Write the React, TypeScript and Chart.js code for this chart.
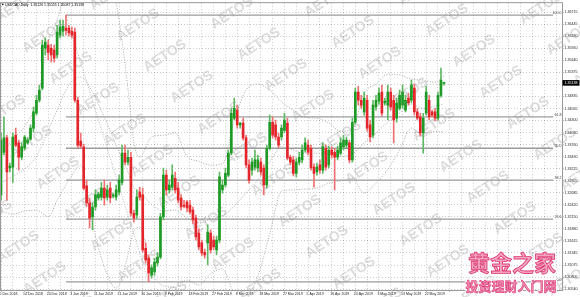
import React, { useEffect, useRef } from 'react';
import { Chart, registerables } from 'chart.js';

Chart.register(...registerables);

const chartTitle = 'USDCAD,Daily  1.35126 1.35155 1.35087 1.35138';
const dateLabels = ['5 Dec 2018', '14 Dec 2018', '24 Dec 2018', '3 Jan 2019', '11 Jan 2019', '21 Jan 2019', '30 Jan 2019', '8 Feb 2019', '18 Feb 2019', '27 Feb 2019', '8 Mar 2019', '18 Mar 2019', '27 Mar 2019', '5 Apr 2019', '16 Apr 2019', '24 Apr 2019', '3 May 2019', '13 May 2019', '22 May 2019'];
const barsPerDateLabel = 8;
const slotCount = 191;

const opens = [1.3264, 1.3359, 1.3391, 1.3324, 1.3326, 1.3397, 1.3380, 1.3348, 1.3368, 1.3380, 1.3388, 1.3413, 1.3446, 1.3475, 1.3502, 1.3591, 1.3598, 1.3591, 1.3587, 1.3576, 1.3620, 1.3629, 1.3636, 1.3636, 1.3629, 1.3627, 1.3475, 1.3384, 1.3371, 1.3284, 1.3246, 1.3215, 1.3237, 1.3257, 1.3259, 1.3279, 1.3259, 1.3279, 1.3261, 1.3259, 1.3270, 1.3292, 1.3357, 1.3337, 1.3348, 1.3223, 1.3219, 1.3270, 1.3264, 1.3145, 1.3123, 1.3085, 1.3092, 1.3112, 1.3125, 1.3215, 1.3308, 1.3275, 1.3281, 1.3301, 1.3279, 1.3257, 1.3241, 1.3248, 1.3241, 1.3230, 1.3212, 1.3179, 1.3157, 1.3136, 1.3157, 1.3179, 1.3163, 1.3141, 1.3163, 1.3275, 1.3286, 1.3308, 1.3357, 1.3435, 1.3453, 1.3420, 1.3424, 1.3391, 1.3331, 1.3319, 1.3326, 1.3324, 1.3337, 1.3324, 1.3286, 1.3368, 1.3426, 1.3420, 1.3393, 1.3393, 1.3408, 1.3424, 1.3348, 1.3342, 1.3312, 1.3337, 1.3342, 1.3364, 1.3375, 1.3368, 1.3326, 1.3315, 1.3331, 1.3319, 1.3368, 1.3331, 1.3364, 1.3359, 1.3348, 1.3357, 1.3371, 1.3375, 1.3380, 1.3342, 1.3426, 1.3493, 1.3475, 1.3449, 1.3475, 1.3420, 1.3397, 1.3460, 1.3473, 1.3493, 1.3469, 1.3464, 1.3493, 1.3475, 1.3435, 1.3457, 1.3464, 1.3453, 1.3480, 1.3475, 1.3502, 1.3449, 1.3438, 1.3402, 1.3446, 1.3475, 1.3449, 1.3449, 1.3435, 1.3486, 1.35126];
const highs = [1.3402, 1.3438, 1.3397, 1.3335, 1.3402, 1.3413, 1.3386, 1.3380, 1.3397, 1.3391, 1.3420, 1.3460, 1.3486, 1.3509, 1.3609, 1.3614, 1.3609, 1.3600, 1.3598, 1.3642, 1.3654, 1.3654, 1.3665, 1.3642, 1.3638, 1.3636, 1.3482, 1.3402, 1.3377, 1.3297, 1.3257, 1.3246, 1.3275, 1.3270, 1.3292, 1.3297, 1.3286, 1.3292, 1.3268, 1.3286, 1.3308, 1.3375, 1.3375, 1.3364, 1.3359, 1.3230, 1.3275, 1.3281, 1.3279, 1.3157, 1.3130, 1.3108, 1.3123, 1.3136, 1.3223, 1.3324, 1.3319, 1.3297, 1.3331, 1.3315, 1.3292, 1.3264, 1.3252, 1.3252, 1.3252, 1.3237, 1.3219, 1.3188, 1.3163, 1.3143, 1.3197, 1.3186, 1.3172, 1.3172, 1.3315, 1.3297, 1.3324, 1.3364, 1.3457, 1.3480, 1.3464, 1.3426, 1.3435, 1.3397, 1.3342, 1.3346, 1.3364, 1.3353, 1.3346, 1.3331, 1.3375, 1.3442, 1.3438, 1.3431, 1.3402, 1.3420, 1.3446, 1.3435, 1.3353, 1.3350, 1.3346, 1.3359, 1.3375, 1.3391, 1.3386, 1.3375, 1.3333, 1.3335, 1.3342, 1.3380, 1.3375, 1.3373, 1.3371, 1.3368, 1.3373, 1.3391, 1.3397, 1.3393, 1.3386, 1.3435, 1.3502, 1.3506, 1.3486, 1.3493, 1.3486, 1.3431, 1.3475, 1.3486, 1.3502, 1.3509, 1.3480, 1.3509, 1.3502, 1.3486, 1.3480, 1.3498, 1.3509, 1.3486, 1.3491, 1.3520, 1.3511, 1.3457, 1.3446, 1.3446, 1.3506, 1.3486, 1.3453, 1.3457, 1.3493, 1.3547, 1.35155];
const lows = [1.3252, 1.3353, 1.3252, 1.3315, 1.3292, 1.3371, 1.3319, 1.3342, 1.3364, 1.3377, 1.3386, 1.3404, 1.3442, 1.3471, 1.3498, 1.3576, 1.3565, 1.3560, 1.3560, 1.3569, 1.3614, 1.3618, 1.3620, 1.3618, 1.3614, 1.3471, 1.3368, 1.3368, 1.3275, 1.3239, 1.3190, 1.3186, 1.3230, 1.3252, 1.3252, 1.3241, 1.3252, 1.3246, 1.3257, 1.3252, 1.3264, 1.3286, 1.3331, 1.3331, 1.3217, 1.3203, 1.3212, 1.3252, 1.3136, 1.3112, 1.3070, 1.3078, 1.3085, 1.3105, 1.3121, 1.3208, 1.3264, 1.3268, 1.3275, 1.3268, 1.3246, 1.3230, 1.3235, 1.3226, 1.3221, 1.3199, 1.3163, 1.3141, 1.3128, 1.3123, 1.3108, 1.3134, 1.3141, 1.3130, 1.3157, 1.3268, 1.3281, 1.3304, 1.3353, 1.3431, 1.3413, 1.3413, 1.3386, 1.3324, 1.3290, 1.3308, 1.3319, 1.3315, 1.3308, 1.3264, 1.3279, 1.3364, 1.3391, 1.3386, 1.3368, 1.3386, 1.3402, 1.3342, 1.3331, 1.3306, 1.3304, 1.3331, 1.3335, 1.3359, 1.3353, 1.3319, 1.3281, 1.3308, 1.3312, 1.3312, 1.3319, 1.3324, 1.3346, 1.3275, 1.3342, 1.3353, 1.3364, 1.3368, 1.3335, 1.3337, 1.3422, 1.3464, 1.3457, 1.3442, 1.3406, 1.3382, 1.3391, 1.3453, 1.3466, 1.3440, 1.3464, 1.3431, 1.3453, 1.3380, 1.3426, 1.3453, 1.3457, 1.3449, 1.3464, 1.3469, 1.3442, 1.3431, 1.3395, 1.3357, 1.3442, 1.3431, 1.3438, 1.3429, 1.3431, 1.3482, 1.35087];
const closes = [1.3386, 1.3391, 1.3315, 1.3328, 1.3393, 1.3375, 1.3348, 1.3371, 1.3393, 1.3386, 1.3413, 1.3449, 1.3475, 1.3498, 1.3598, 1.3605, 1.3582, 1.3576, 1.3569, 1.3627, 1.3638, 1.3640, 1.3631, 1.3625, 1.3620, 1.3475, 1.3375, 1.3373, 1.3279, 1.3246, 1.3212, 1.3237, 1.3264, 1.3266, 1.3279, 1.3257, 1.3275, 1.3257, 1.3264, 1.3275, 1.3297, 1.3357, 1.3337, 1.3348, 1.3223, 1.3212, 1.3259, 1.3259, 1.3141, 1.3119, 1.3090, 1.3101, 1.3114, 1.3125, 1.3215, 1.3308, 1.3275, 1.3286, 1.3308, 1.3275, 1.3252, 1.3237, 1.3239, 1.3235, 1.3226, 1.3208, 1.3170, 1.3148, 1.3134, 1.3130, 1.3181, 1.3141, 1.3148, 1.3163, 1.3304, 1.3286, 1.3312, 1.3357, 1.3446, 1.3457, 1.3420, 1.3424, 1.3391, 1.3331, 1.3297, 1.3337, 1.3342, 1.3342, 1.3315, 1.3286, 1.3368, 1.3426, 1.3397, 1.3393, 1.3375, 1.3413, 1.3431, 1.3346, 1.3337, 1.3312, 1.3337, 1.3348, 1.3364, 1.3380, 1.3359, 1.3324, 1.3312, 1.3326, 1.3319, 1.3371, 1.3326, 1.3364, 1.3353, 1.3348, 1.3364, 1.3380, 1.3386, 1.3386, 1.3342, 1.3426, 1.3493, 1.3475, 1.3464, 1.3480, 1.3413, 1.3393, 1.3464, 1.3475, 1.3491, 1.3446, 1.3473, 1.3493, 1.3460, 1.3431, 1.3469, 1.3486, 1.3493, 1.3475, 1.3469, 1.3509, 1.3449, 1.3435, 1.3402, 1.3435, 1.3493, 1.3438, 1.3442, 1.3435, 1.3486, 1.3520, 1.35138];

const priceTicks = [1.30540, 1.30805, 1.31075, 1.31345, 1.31615, 1.31880, 1.32150, 1.32420, 1.32685, 1.32955, 1.33225, 1.33490, 1.33760, 1.34030, 1.34300, 1.34565, 1.34835, 1.35105, 1.35375, 1.35640, 1.35910, 1.36180, 1.36445, 1.36715];
const priceMin = 1.30518;
const priceMax = 1.36916;
const currentPrice = 1.35138;

const fibLevels = [1.3665, 1.3438, 1.3368, 1.3297, 1.3210, 1.3070];
const fibNames = ['100.0', '61.8', '50.0', '38.2', '23.6', '0.0'];
const fibFromSlot = 22;
const fibToSlot = 187;
const fibAnchorSlots = [22, 50];
const fibAnchorPrices = [1.3665, 1.3070];

const bandSlots = [0, 4, 8, 12, 16, 19, 23, 27, 31, 35, 39, 41, 43, 45, 47, 51, 55, 59, 63, 67, 71, 75, 79, 83, 87, 91, 95, 99, 103, 107, 111, 115, 119, 123, 127, 131, 135, 139, 143, 147, 150];
const bandUpper = [1.3353, 1.3388, 1.3417, 1.3471, 1.3602, 1.3654, 1.3723, 1.3723, 1.3790, 1.3774, 1.3692, 1.3607, 1.3500, 1.3381, 1.3348, 1.3393, 1.3397, 1.3402, 1.3350, 1.3339, 1.3330, 1.3333, 1.3429, 1.3498, 1.3511, 1.3498, 1.3471, 1.3453, 1.3437, 1.3435, 1.3424, 1.3406, 1.3411, 1.3491, 1.3511, 1.3533, 1.3531, 1.3522, 1.3520, 1.3515, 1.3529];
const bandMiddle = [1.3290, 1.3306, 1.3322, 1.3350, 1.3408, 1.3453, 1.3509, 1.3527, 1.3493, 1.3437, 1.3375, 1.3344, 1.3315, 1.3281, 1.3270, 1.3243, 1.3228, 1.3230, 1.3212, 1.3201, 1.3210, 1.3217, 1.3239, 1.3268, 1.3297, 1.3337, 1.3371, 1.3364, 1.3357, 1.3357, 1.3357, 1.3350, 1.3355, 1.3380, 1.3402, 1.3426, 1.3446, 1.3466, 1.3457, 1.3462, 1.3466];
const bandLower = [1.3228, 1.3221, 1.3228, 1.3230, 1.3215, 1.3252, 1.3297, 1.3330, 1.3199, 1.3103, 1.3056, 1.3079, 1.3130, 1.3183, 1.3192, 1.3094, 1.3061, 1.3058, 1.3074, 1.3063, 1.3088, 1.3099, 1.3047, 1.3041, 1.3083, 1.3177, 1.3272, 1.3275, 1.3277, 1.3279, 1.3290, 1.3295, 1.3301, 1.3268, 1.3290, 1.3321, 1.3364, 1.3413, 1.3395, 1.3406, 1.3404];

const watermarkText = 'AETOS';
const logoTitle = '黄金之家';
const logoSubtitle = '投资理财入门网';

const UP_BODY = '#1f9a26';
const DOWN_BODY = '#e3262b';
const UP_WICK = '#5fb863';
const DOWN_WICK = '#ee7073';
const TINY_FONT = '"Liberation Sans", Arial, sans-serif';

export default function App() {
  const canvasRef = useRef<HTMLCanvasElement | null>(null);

  useEffect(() => {
    document.body.style.margin = '0';
    const canvas = canvasRef.current;
    if (!canvas) return;

    const slots = Array.from({ length: slotCount }, (_, i) => String(i));
    const sparse = (idx: number[], vals: number[]) =>
      slots.map((_, i) => {
        const k = idx.indexOf(i);
        return k >= 0 ? vals[k] : null;
      });
    const up = closes.map((c, i) => c >= opens[i]);

    const bandStyle = {
      type: 'line' as const,
      borderColor: '#a9a9a9',
      borderWidth: 1,
      borderDash: [1, 1.6],
      pointRadius: 0,
      spanGaps: true,
      cubicInterpolationMode: 'monotone' as const,
      order: 4,
    };

    const fibDatasets = fibLevels.map((lvl) => ({
      type: 'line' as const,
      data: sparse([fibFromSlot, fibToSlot], [lvl, lvl]),
      borderColor: '#9b9b9b',
      borderWidth: 1.3,
      pointRadius: 0,
      spanGaps: true,
      tension: 0,
      order: 3,
    }));

    const watermarkPlugin = {
      id: 'watermark',
      beforeDatasetsDraw(chart: any) {
        const ctx = chart.ctx;
        ctx.save();
        ctx.font = `bold 14px ${TINY_FONT}`;
        ctx.fillStyle = 'rgba(150,150,150,0.33)';
        ctx.textAlign = 'center';
        ctx.textBaseline = 'middle';
        for (let m = -16; m <= 16; m++) {
          for (let n = -16; n <= 16; n++) {
            const cx = 447 + m * 27 + n * 67;
            const cy = 20 + m * 31 - n * 43;
            if (cx < -40 || cx > 620 || cy < -30 || cy > 330) continue;
            ctx.save();
            ctx.translate(cx, cy);
            ctx.rotate(-0.58);
            ctx.fillText(watermarkText, 0, 0);
            ctx.restore();
          }
        }
        ctx.restore();
      },
    };

    const overlayPlugin = {
      id: 'overlay',
      afterDraw(chart: any) {
        const ctx = chart.ctx;
        const area = chart.chartArea;
        const yScale = chart.scales.y;
        ctx.save();
        // frame
        ctx.strokeStyle = '#9a9a9a';
        ctx.lineWidth = 1;
        ctx.strokeRect(area.left - 0.5, area.top - 0.5, area.right - area.left + 1, area.bottom - area.top + 1);

        // fib labels
        ctx.font = `3.6px ${TINY_FONT}`;
        ctx.fillStyle = '#444';
        ctx.textAlign = 'right';
        ctx.textBaseline = 'bottom';
        fibLevels.forEach((lvl, i) => {
          const y = yScale.getPixelForValue(lvl);
          ctx.fillText(fibNames[i], area.right - 0.5, y - 0.4);
        });

        // current price box
        const py = yScale.getPixelForValue(currentPrice);
        ctx.fillStyle = '#000';
        ctx.fillRect(area.right + 0.5, py - 2.8, 17, 5.6);
        ctx.fillStyle = '#fff';
        ctx.textAlign = 'left';
        ctx.textBaseline = 'middle';
        ctx.fillText(currentPrice.toFixed(5), area.right + 2.5, py + 0.2);

        // title
        ctx.fillStyle = '#000';
        ctx.beginPath();
        ctx.moveTo(1.6, 3.8);
        ctx.lineTo(4, 3.8);
        ctx.lineTo(2.8, 5.6);
        ctx.closePath();
        ctx.fill();
        ctx.font = `3.5px ${TINY_FONT}`;
        ctx.fillText(chartTitle, 5, 5);

        // logo
        ctx.textAlign = 'center';
        ctx.textBaseline = 'middle';
        ctx.lineJoin = 'round';
        ctx.font = 'bold 22px "Noto Sans CJK SC"';
        ctx.strokeStyle = '#ffffff';
        ctx.lineWidth = 3;
        ctx.strokeText(logoTitle, 512, 263);
        ctx.fillStyle = '#f6a3c0';
        ctx.fillText(logoTitle, 512, 263);
        ctx.strokeStyle = '#dc3f78';
        ctx.lineWidth = 0.9;
        ctx.strokeText(logoTitle, 512, 263);

        ctx.font = 'bold 13px "Noto Sans CJK SC"';
        ctx.strokeStyle = '#ffffff';
        ctx.lineWidth = 2.5;
        ctx.strokeText(logoSubtitle, 511, 286.5);
        ctx.fillStyle = '#f38ab0';
        ctx.fillText(logoSubtitle, 511, 286.5);
        ctx.strokeStyle = '#d8407a';
        ctx.lineWidth = 0.6;
        ctx.strokeText(logoSubtitle, 511, 286.5);
        ctx.restore();
      },
    };

    const chart = new Chart(canvas, {
      type: 'bar',
      data: {
        labels: slots,
        datasets: [
          {
            type: 'bar',
            data: opens.map((o, i) => [Math.min(o, closes[i]), Math.max(o, closes[i])]) as any,
            backgroundColor: up.map((u) => (u ? UP_BODY : DOWN_BODY)),
            barThickness: 2,
            minBarLength: 1,
            grouped: false,
            order: 0,
          },
          {
            type: 'bar',
            data: lows.map((l, i) => [l, highs[i]]) as any,
            backgroundColor: up.map((u) => (u ? UP_WICK : DOWN_WICK)),
            barThickness: 1,
            grouped: false,
            order: 1,
          },
          ...fibDatasets,
          {
            type: 'line',
            data: sparse(fibAnchorSlots, fibAnchorPrices),
            borderColor: '#b5b5b5',
            borderWidth: 1,
            borderDash: [1, 1.6],
            pointRadius: 0,
            spanGaps: true,
            tension: 0,
            order: 3,
          },
          { ...bandStyle, data: sparse(bandSlots, bandUpper) },
          { ...bandStyle, data: sparse(bandSlots, bandMiddle) },
          { ...bandStyle, data: sparse(bandSlots, bandLower) },
        ] as any,
      },
      options: {
        animation: false,
        responsive: false,
        maintainAspectRatio: false,
        layout: { padding: { top: 3, left: 1, right: 0, bottom: 0 } },
        plugins: { legend: { display: false }, tooltip: { enabled: false }, title: { display: false } },
        scales: {
          x: {
            type: 'category',
            offset: false,
            grid: {
              offset: false,
              color: 'rgba(0,0,0,0.2)',
              lineWidth: 1,
              drawTicks: true,
              tickLength: 1.5,
              tickColor: (c: any) => (c.tick && c.tick.value % barsPerDateLabel === 0 ? '#888' : 'rgba(0,0,0,0)'),
              tickBorderDash: [],
            },
            border: { display: false, dash: [1, 2] },
            afterBuildTicks: (s: any) => {
              s.ticks = s.ticks.filter((t: any) => t.value % 4 === 0);
            },
            afterFit: (s: any) => {
              s.height = 7;
            },
            ticks: {
              autoSkip: false,
              maxRotation: 0,
              minRotation: 0,
              align: 'start',
              labelOffset: -1.5,
              padding: 0.5,
              color: '#1a1a1a',
              font: { family: TINY_FONT, size: 3.5 },
              callback: (v: any) => {
                const n = Number(v);
                return n % barsPerDateLabel === 0 ? dateLabels[n / barsPerDateLabel] ?? '' : '';
              },
            },
          },
          y: {
            type: 'linear',
            position: 'right',
            min: priceMin,
            max: priceMax,
            grid: {
              color: 'rgba(0,0,0,0.2)',
              lineWidth: 1,
              drawTicks: true,
              tickLength: 1.5,
              tickColor: '#888',
              tickBorderDash: [],
            },
            border: { display: false, dash: [1, 2] },
            afterBuildTicks: (s: any) => {
              s.ticks = priceTicks.map((v) => ({ value: v }));
            },
            afterFit: (s: any) => {
              s.width = 18;
            },
            ticks: {
              padding: 1,
              color: '#1a1a1a',
              font: { family: TINY_FONT, size: 3.6 },
              callback: (v: any) => Number(v).toFixed(5),
            },
          },
        },
      },
      plugins: [watermarkPlugin, overlayPlugin],
    });

    return () => chart.destroy();
  }, []);

  return (
    <div style={{ width: 580, height: 297, background: '#fff' }}>
      <canvas ref={canvasRef} width={580} height={297} style={{ display: 'block' }} />
    </div>
  );
}
